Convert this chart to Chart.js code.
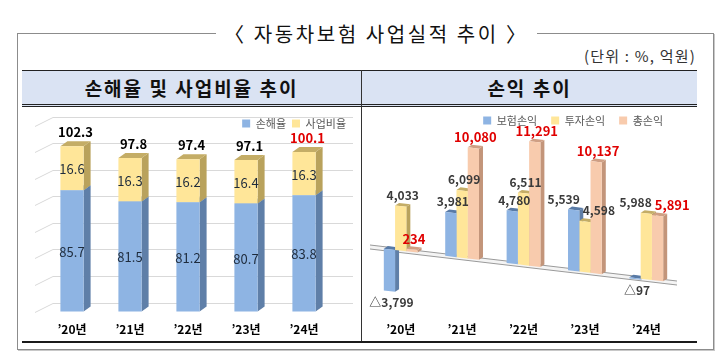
<!DOCTYPE html>
<html><head><meta charset="utf-8">
<script src="https://cdn.jsdelivr.net/npm/chart.js@4.4.1/dist/chart.umd.min.js"></script>
<style>
html,body{margin:0;padding:0;background:#fff;}
body{width:720px;height:356px;position:relative;overflow:hidden;font-family:"Noto Sans CJK KR","Noto Sans",sans-serif;color:#111;}
#frame{position:absolute;left:17px;top:33px;width:697px;height:317px;box-sizing:border-box;border:1px solid #8c8c8c;box-shadow:1px 1px 0 #c8c8c8;}
#title{position:absolute;left:216px;top:21px;height:26px;line-height:26px;font-size:20px;letter-spacing:2.6px;background:#fff;padding:0 8px;white-space:nowrap;color:#111;}
#unit{position:absolute;right:24px;top:46px;font-size:15px;letter-spacing:1.2px;line-height:20px;color:#333;white-space:nowrap;}
#hdr{position:absolute;left:22px;top:70px;width:675px;height:33px;background:#dae3f3;border-top:1px solid #222;border-bottom:3px double #222;}
.ht{position:absolute;top:0;height:33px;line-height:33px;font-size:19px;letter-spacing:2px;font-weight:bold;text-align:center;color:#111;}
#divider{position:absolute;left:361px;top:70px;width:1px;height:272px;background:#333;z-index:5;}
#bottom{position:absolute;left:22px;top:341px;width:675px;height:2px;background:#1a1a1a;z-index:5;}
#cover{position:absolute;left:18px;top:343px;width:694px;height:6px;background:#fff;z-index:4;}
canvas{position:absolute;}
#c1{left:22px;top:108px;}
#c2{left:362px;top:108px;}
</style>
</head><body>
<div id="frame"></div>
<div id="title">〈 자동차보험 사업실적 추이 〉</div>
<div id="unit">(단위 : %, 억원)</div>
<div id="hdr">
  <div class="ht" style="left:0;width:339px;">손해율 및 사업비율 추이</div>
  <div class="ht" style="left:340px;width:335px;">손익 추이</div>
</div>
<canvas id="c1" width="339" height="240"></canvas>
<canvas id="c2" width="335" height="232"></canvas>
<div id="cover"></div>
<div id="divider"></div>
<div id="bottom"></div>
<script>
// ---- data ----
const years = ["’20년", "’21년", "’22년", "’23년", "’24년"];
const lossRatio = [85.7, 81.5, 81.2, 80.7, 83.8];
const expenseRatio = [16.6, 16.3, 16.2, 16.4, 16.3];
const combinedRatio = [102.3, 97.8, 97.4, 97.1, 100.1];
const ratioGridValues = [40, 50, 60, 70, 80, 90, 100, 110];
const insuranceProfit = [-3799, 3981, 4780, 5539, -97];
const investmentProfit = [4033, 6099, 6511, 4598, 5988];
const totalProfit = [234, 10080, 11291, 10137, 5891];

const FONT = '"Noto Sans CJK KR", "Noto Sans", sans-serif';
Chart.defaults.font.family = FONT;

function shearK(chart){ const o = chart.options.plugins.bar3d; return (o && o.shear) || 0; }
function shearCx(chart){ const a = chart.chartArea; return (a.left + a.right) / 2; }
function applyShear(chart, ctx){
  const k = shearK(chart); if (!k) return;
  const cx = shearCx(chart);
  ctx.transform(1, k, 0, 1, 0, -k * cx);
}
function fmt(v, dec){
  const s = Math.abs(v).toLocaleString('en-US', {minimumFractionDigits: dec, maximumFractionDigits: dec});
  return (v < 0 ? '△' : '') + s;
}

const bar3d = {
  id: 'bar3d',
  beforeDatasetsDraw(chart, args, opts){
    const ctx = chart.ctx, a = chart.chartArea, ys = chart.scales.y;
    ctx.save();
    if (opts.gridValues) {
      ctx.strokeStyle = '#d9d9d9'; ctx.lineWidth = 1;
      for (const v of opts.gridValues) {
        const py = Math.round(ys.getPixelForValue(v)) + 0.5;
        ctx.beginPath();
        ctx.moveTo(a.left - 8, py);
        ctx.lineTo(a.left + 10, py - 9);
        ctx.lineTo(a.right + 20, py - 9);
        ctx.stroke();
      }
    }
    applyShear(chart, ctx);
    if (opts.floor) {
      const z = ys.getPixelForValue(0);
      ctx.fillStyle = '#f4f4f4';
      ctx.fillRect(a.left, z - 2, a.right - a.left, 4);
      ctx.strokeStyle = '#9a9a9a'; ctx.lineWidth = 1;
      ctx.beginPath();
      ctx.moveTo(a.left, z - 2); ctx.lineTo(a.right, z - 2);
      ctx.moveTo(a.left, z + 2); ctx.lineTo(a.right, z + 2);
      ctx.stroke();
    }
    const dx = opts.dx, dy = opts.dy;
    const metas = chart.getSortedVisibleDatasetMetas().slice().sort((p, q) => p.index - q.index);
    const n = chart.data.labels.length;
    for (let i = 0; i < n; i++) {
      for (const m of metas) {
        const el = m.data[i]; if (!el) continue;
        const ds = chart.data.datasets[m.index];
        const p = el.getProps(['x', 'y', 'base', 'width'], true);
        const x0 = p.x - p.width / 2, x1 = p.x + p.width / 2;
        const top = Math.min(p.y, p.base);
        const bot = Math.min(Math.max(p.y, p.base), a.bottom);
        ctx.fillStyle = ds.sideColor;
        ctx.beginPath();
        ctx.moveTo(x1, top); ctx.lineTo(x1 + dx, top - dy); ctx.lineTo(x1 + dx, bot - dy); ctx.lineTo(x1, bot);
        ctx.closePath(); ctx.fill();
        ctx.fillStyle = ds.topColor;
        ctx.beginPath();
        ctx.moveTo(x0, top); ctx.lineTo(x0 + dx, top - dy); ctx.lineTo(x1 + dx, top - dy); ctx.lineTo(x1, top);
        ctx.closePath(); ctx.fill();
      }
    }
  },
  afterDatasetsDraw(chart, args, opts){
    const ctx = chart.ctx, a = chart.chartArea;
    ctx.restore();
    ctx.save();
    ctx.textAlign = 'center'; ctx.textBaseline = 'middle';
    const k = shearK(chart), cx = shearCx(chart);
    const dx = opts.dx, dy = opts.dy;
    const metas = chart.getSortedVisibleDatasetMetas().slice().sort((p, q) => p.index - q.index);
    const n = chart.data.labels.length;
    if (opts.mode === 'stack') {
      for (let i = 0; i < n; i++) {
        let stackTop = Infinity, sx = 0;
        for (const m of metas) {
          const el = m.data[i]; const ds = chart.data.datasets[m.index];
          const p = el.getProps(['x', 'y', 'base'], true);
          const top = Math.min(p.y, p.base);
          const bot = Math.min(Math.max(p.y, p.base), a.bottom);
          ctx.font = '13px ' + FONT; ctx.fillStyle = '#1e2b3c';
          ctx.fillText(fmt(ds.data[i], 1), p.x, (top + bot) / 2 + 1);
          if (top < stackTop) { stackTop = top; sx = p.x; }
        }
        ctx.font = 'bold 13px ' + FONT;
        ctx.fillStyle = (i === n - 1) ? '#e00000' : '#000';
        ctx.fillText(fmt(opts.totals[i], 1), sx + dx / 2, stackTop - dy - 9);
      }
    } else {
      for (let i = 0; i < n; i++) {
        const items = [];
        for (const m of metas) {
          const el = m.data[i]; const ds = chart.data.datasets[m.index];
          const p = el.getProps(['x', 'y', 'base'], true);
          const v = ds.data[i];
          const top = Math.min(p.y, p.base), bot = Math.max(p.y, p.base);
          let x = p.x + dx / 2;
          let y = v >= 0 ? top - dy - 8 : bot + 11;
          y += k * (x - cx);
          ctx.font = ds.labelFont;
          const txt = fmt(v, 0);
          items.push({x, y, txt, w: ctx.measureText(txt).width, font: ds.labelFont, color: ds.labelColor});
        }
        for (let pass = 0; pass < 3; pass++) {
          for (let u = 0; u < items.length; u++) for (let w = u + 1; w < items.length; w++) {
            const A = items[u], B = items[w];
            if (Math.abs(A.y - B.y) < 13) {
              const need = (A.w + B.w) / 2 + 3 - Math.abs(B.x - A.x);
              if (need > 0) { const s = B.x >= A.x ? 1 : -1; A.x -= s * need / 2; B.x += s * need / 2; }
            }
          }
        }
        for (const it of items) {
          ctx.font = it.font; ctx.fillStyle = it.color;
          ctx.fillText(it.txt, it.x, it.y);
        }
      }
    }
    ctx.restore();
  }
};

const xTicks = {color: '#000', font: {size: 12, weight: 'bold', family: FONT}};

new Chart(document.getElementById('c1'), {
  type: 'bar',
  data: {
    labels: years,
    datasets: [
      {label: '손해율', data: lossRatio, backgroundColor: '#8eb4e3', sideColor: '#5f7fa8', topColor: '#6d8db6'},
      {label: '사업비율', data: expenseRatio, backgroundColor: '#ffe699', sideColor: '#b9a25c', topColor: '#c4ad66'}
    ]
  },
  options: {
    responsive: false, animation: false, events: [],
    layout: {padding: {left: 21, right: 9, top: 4, bottom: 0}},
    datasets: {bar: {categoryPercentage: 1, barPercentage: 0.4}},
    plugins: {
      legend: {position: 'top', align: 'end',
        labels: {boxWidth: 8, boxHeight: 8, padding: 6, color: '#595959', font: {size: 11, family: FONT}}},
      tooltip: {enabled: false},
      bar3d: {mode: 'stack', dx: 7, dy: 5, gridValues: ratioGridValues, totals: combinedRatio}
    },
    scales: {
      x: {stacked: true, grid: {display: false, drawTicks: false}, border: {display: false}, ticks: Object.assign({padding: 11}, xTicks)},
      y: {stacked: true, display: false, min: 40, max: 105},
      yr: {position: 'right', display: true, grid: {display: false, drawTicks: false}, border: {display: false},
           ticks: {display: false}, afterFit(s){ s.width = 19; }}
    }
  },
  plugins: [bar3d]
});

new Chart(document.getElementById('c2'), {
  type: 'bar',
  data: {
    labels: years,
    datasets: [
      {label: '보험손익', data: insuranceProfit, backgroundColor: '#8eb4e3', sideColor: '#5f7fa8', topColor: '#587aa6',
       labelColor: '#3a3a3a', labelFont: 'bold 12px ' + FONT},
      {label: '투자손익', data: investmentProfit, backgroundColor: '#ffe699', sideColor: '#b9a25c', topColor: '#c4ad66',
       labelColor: '#3a3a3a', labelFont: 'bold 12px ' + FONT},
      {label: '총손익', data: totalProfit, backgroundColor: '#f8cbad', sideColor: '#c3957a', topColor: '#cf9f84',
       labelColor: '#e00000', labelFont: 'bold 13px ' + FONT}
    ]
  },
  options: {
    responsive: false, animation: false, events: [],
    layout: {padding: {left: 8, right: 20, top: -7, bottom: 1.5}},
    datasets: {bar: {categoryPercentage: 0.55, barPercentage: 1}},
    plugins: {
      legend: {position: 'top', align: 'end',
        labels: {boxWidth: 8, boxHeight: 8, padding: 14, color: '#595959', font: {size: 11, family: FONT}}},
      tooltip: {enabled: false},
      bar3d: {mode: 'each', dx: 4, dy: 3, shear: 0.117, floor: true}
    },
    scales: {
      x: {grid: {display: false, drawTicks: false}, border: {display: false}, ticks: Object.assign({padding: 2}, xTicks)},
      y: {display: false, min: -5000, max: 11700}
    }
  },
  plugins: [bar3d]
});
</script>
</body></html>
